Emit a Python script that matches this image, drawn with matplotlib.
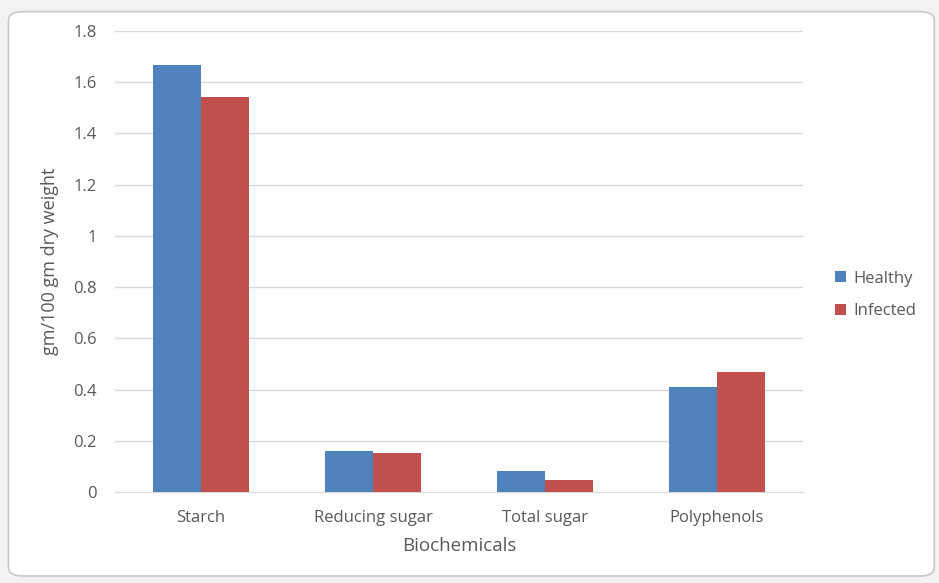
import matplotlib
matplotlib.use("Agg")
import matplotlib.pyplot as plt
import numpy as np
from matplotlib.patches import FancyBboxPatch

# biochemical content of healthy vs infected samples
categories = ["Starch", "Reducing sugar", "Total sugar", "Polyphenols"]
healthy = [1.667, 0.161, 0.081, 0.41]
infected = [1.542, 0.154, 0.047, 0.469]
yticks = [0, 0.2, 0.4, 0.6, 0.8, 1, 1.2, 1.4, 1.6, 1.8]
ytick_labels = ["0", "0.2", "0.4", "0.6", "0.8", "1", "1.2", "1.4", "1.6", "1.8"]

txt = "#595959"
plt.rcParams["font.family"] = ["Open Sans", "DejaVu Sans"]

fig = plt.figure(figsize=(9.39, 5.83), dpi=100)
fig.patch.set_facecolor("#f2f2f2")

# chart area frame, kept behind the axes
frame = FancyBboxPatch((0.009, 0.012), 0.986, 0.968,
                       boxstyle="round,pad=0,rounding_size=0.015",
                       transform=fig.transFigure, facecolor="white",
                       edgecolor="#c8c8c8", linewidth=1.2, zorder=-10)
fig.patches.append(frame)

ax = fig.add_axes([0.1225, 0.156, 0.7325, 0.791])
ax.set_facecolor("none")

x = np.arange(len(categories))
w = 0.28
ax.bar(x - w / 2, healthy, w, color="#4F81BD", label="Healthy", zorder=3)
ax.bar(x + w / 2, infected, w, color="#C0504D", label="Infected", zorder=3)

ax.set_xlim(-0.5, len(categories) - 0.5)
ax.set_ylim(0, 1.8)
ax.set_yticks(yticks)
ax.set_yticklabels(ytick_labels)
ax.set_xticks(x)
ax.set_xticklabels(categories)
ax.tick_params(length=0, colors=txt, labelsize=12)
ax.tick_params(axis="y", pad=13)
ax.tick_params(axis="x", pad=13)
ax.grid(axis="y", color="#d9d9d9", linewidth=1, zorder=0)
for s in ["top", "right", "left"]:
    ax.spines[s].set_visible(False)
ax.spines["bottom"].set_color("#d9d9d9")

ax.set_ylabel("gm/100 gm dry weight", color=txt, fontsize=13, labelpad=10)
ax.set_xlabel("Biochemicals", color=txt, fontsize=13.5, labelpad=8)

leg = fig.legend(loc="center left", bbox_to_anchor=(0.889, 0.494), frameon=False,
                 fontsize=12, handlelength=0.66, handleheight=0.66,
                 handletextpad=0.45, labelspacing=1.0, borderpad=0,
                 borderaxespad=0)
for t in leg.get_texts():
    t.set_color(txt)

fig.savefig("out.png", dpi=100, facecolor=fig.get_facecolor())
